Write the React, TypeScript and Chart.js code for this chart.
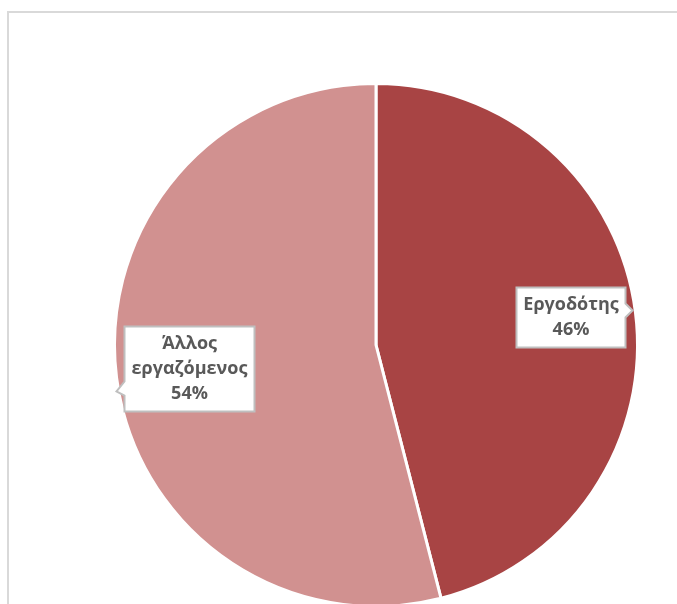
import React, { useEffect, useRef } from "react";
import { Chart, registerables } from "chart.js";

Chart.register(...registerables);

const categories = ["Εργοδότης", "Άλλος εργαζόμενος"];
const labelLines = [["Εργοδότης"], ["Άλλος", "εργαζόμενος"]];
const values = [46, 54];
const colors = ["#A84444", "#D19190"];

const framePlugin = {
  id: "frame",
  beforeDraw(chart: any) {
    const ctx = chart.ctx;
    ctx.save();
    ctx.strokeStyle = "#D9D9D9";
    ctx.lineWidth = 2;
    ctx.strokeRect(8, 12, 720, 720);
    ctx.restore();
  },
};

const calloutPlugin = {
  id: "callouts",
  afterDatasetsDraw(chart: any) {
    const ctx = chart.ctx;
    const meta = chart.getDatasetMeta(0);
    const total = values.reduce((a, b) => a + b, 0);
    meta.data.forEach((arc: any, i: number) => {
      const { x, y, startAngle, endAngle, outerRadius } = arc.getProps(
        ["x", "y", "startAngle", "endAngle", "outerRadius"],
        true
      );
      const mid = (startAngle + endAngle) / 2;
      const r = outerRadius * 0.75;
      const cx = x + Math.cos(mid) * r;
      const cy = y + Math.sin(mid) * r;
      const pct = Math.round((values[i] / total) * 100) + "%";
      const lines = [...labelLines[i], pct];
      ctx.save();
      ctx.font = "bold 18px 'Open Sans', sans-serif";
      const lh = 25;
      let maxW = 0;
      lines.forEach((l) => (maxW = Math.max(maxW, ctx.measureText(l).width)));
      const w = Math.round(maxW + 14);
      const h = Math.round(lines.length * lh + 10);
      const right = Math.cos(mid) > 0;
      const bx = Math.round(cx - w / 2 + (right ? 0 : 8)) + 0.5;
      const by = Math.round(cy - h / 2 + (right ? -3 : -1)) + 0.5;
      ctx.beginPath();
      if (right) {
        const py = by + 16;
        ctx.moveTo(bx, by);
        ctx.lineTo(bx + w, by);
        ctx.lineTo(bx + w, py);
        ctx.lineTo(bx + w + 7, py + 7);
        ctx.lineTo(bx + w, py + 14);
        ctx.lineTo(bx + w, by + h);
        ctx.lineTo(bx, by + h);
        ctx.closePath();
      } else {
        const py = by + h - 30;
        ctx.moveTo(bx, by);
        ctx.lineTo(bx + w, by);
        ctx.lineTo(bx + w, by + h);
        ctx.lineTo(bx, by + h);
        ctx.lineTo(bx, py + 14);
        ctx.lineTo(bx - 8, py + 10);
        ctx.lineTo(bx, py);
        ctx.closePath();
      }
      ctx.fillStyle = "#FFFFFF";
      ctx.fill();
      ctx.strokeStyle = "#BFBFBF";
      ctx.lineWidth = 2;
      ctx.stroke();
      ctx.fillStyle = "#595959";
      ctx.textAlign = "center";
      ctx.textBaseline = "middle";
      const startY = by + h / 2 - ((lines.length - 1) * lh) / 2;
      lines.forEach((l, k) => ctx.fillText(l, bx + w / 2, startY + k * lh));
      ctx.restore();
    });
  },
};

export default function App() {
  const ref = useRef<HTMLCanvasElement>(null);
  useEffect(() => {
    if (!ref.current) return;
    const chart = new Chart(ref.current, {
      type: "pie",
      data: {
        labels: categories,
        datasets: [
          {
            data: values,
            backgroundColor: colors,
            borderColor: "#FFFFFF",
            borderWidth: 3,
            hoverOffset: 0,
            offset: 0,
          },
        ],
      },
      options: {
        responsive: false,
        animation: false,
        radius: 261.5,
        layout: { padding: { left: 116, right: 41, top: 86, bottom: 0 } },
        plugins: {
          legend: { display: false },
          tooltip: { enabled: false },
        },
      } as any,
      plugins: [framePlugin, calloutPlugin],
    });
    return () => chart.destroy();
  }, []);
  return (
    <div style={{ position: "fixed", left: 0, top: 0, width: 677, height: 604, background: "#fff" }}>
      <canvas ref={ref} width={677} height={604} style={{ width: 677, height: 604 }} />
    </div>
  );
}
